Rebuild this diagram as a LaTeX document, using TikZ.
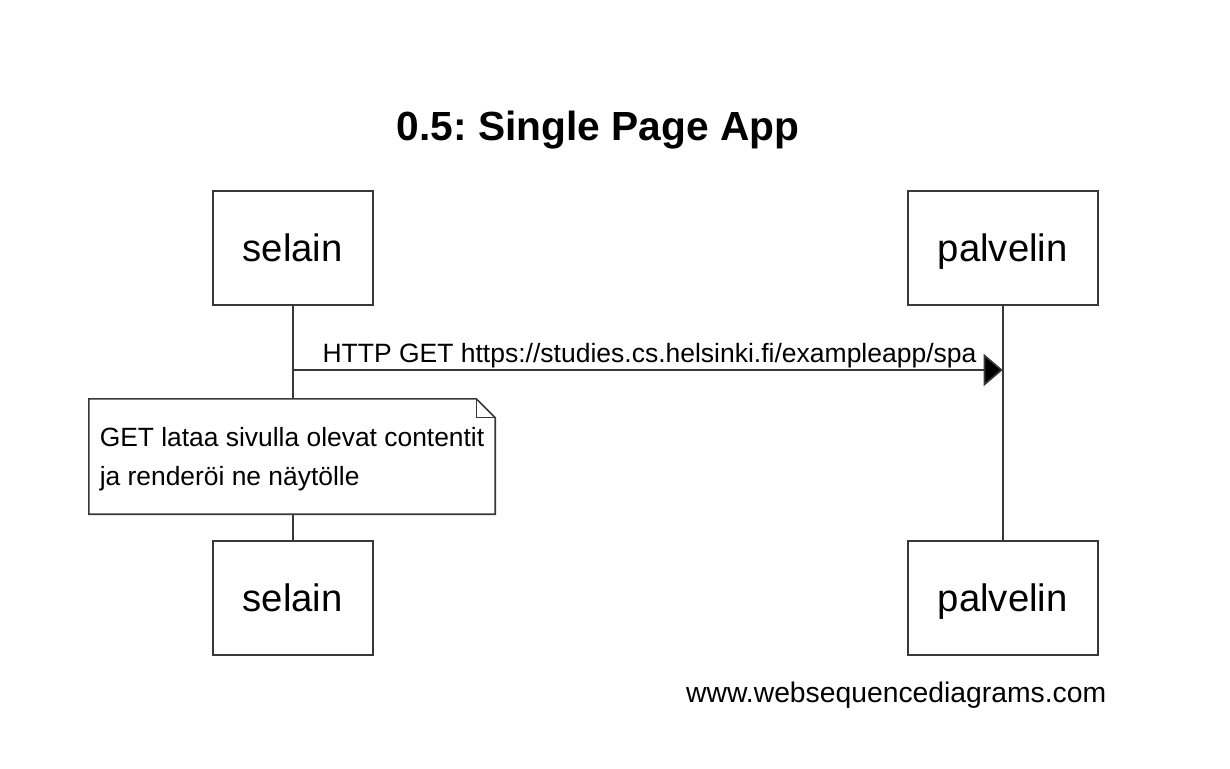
\documentclass[tikz,border=0pt]{standalone}
\usepackage{fontspec}
\setmainfont{Liberation Sans}
\usetikzlibrary{arrows.meta}
\definecolor{wsdline}{gray}{0.22}
\frenchspacing

\begin{document}
\begin{tikzpicture}[x=1pt, y=-1pt]
		% Node style
		\tikzset{actor style/.style={draw=wsdline,
								line width=1.6pt,
								inner sep=0pt,
								minimum height=114.3pt,
								text height=28pt,
								text depth=0pt,
								font=\fontsize{38.3}{46}\selectfont},
				note style/.style={inner sep=0pt,
								minimum width=406pt,
								minimum height=115pt,
								align=left,
								text depth=0pt,
								font=\fontsize{26.4}{39}\selectfont},
				message/.style={line width=1.6pt, draw=wsdline,
								-{Triangle[length=19pt, width=32pt, fill=black]}}}
		
		\useasboundingbox (0,0) rectangle (1230,768);
		
		% Draw nodes
		\node[anchor=base, inner sep=0pt, font=\bfseries\fontsize{40.7}{48}\selectfont] at (598, 140) (title) {0.5: Single Page App};
		
		\node[actor style, minimum width=160pt] at (292.7, 247.9)	(selainTop) {selain};
		\node[actor style, minimum width=190pt] at (1002.7, 247.9)	(palvelinTop) {palvelin};
		\node[actor style, minimum width=160pt] at (292.7, 597.9)	(selainBot) {selain};
		\node[actor style, minimum width=190pt] at (1002.7, 597.9)	(palvelinBot) {palvelin};
		
		\coordinate (getFrom) at (292.7, 370);
		\coordinate (getTo) at (1002.7, 370);
		
		\node[anchor=base west, inner sep=0pt, font=\fontsize{28.3}{34}\selectfont] at (686, 702) (footer) {www.websequencediagrams.com};
		
		% Draw connectors
		\draw[wsdline, line width=1.6pt] (selainTop) -- (selainBot);
		\draw[wsdline, line width=1.6pt] (palvelinTop) -- (palvelinBot);
		
		\draw[message] (getFrom) -- (getTo)
				node[pos=0, anchor=base west, inner sep=0pt, xshift=29pt, yshift=8pt,
					font=\fontsize{26.5}{32}\selectfont] (getLabel) {HTTP GET https://studies.cs.helsinki.fi/exampleapp/spa};
		
		% Draw note
		\node[note style, fill=white] at (292, 456.5) (note) {GET lataa sivulla olevat contentit\\ja renderöi ne näytölle};
		\draw[wsdline, line width=1.6pt, line join=miter]
			(note.north west) -- ([xshift=-19pt]note.north east) -- ([yshift=-19pt]note.north east)
			-- (note.south east) -- (note.south west) -- cycle;
		\draw[wsdline, line width=1.2pt]
			([xshift=-19pt]note.north east) -- ([xshift=-19pt, yshift=-19pt]note.north east) -- ([yshift=-19pt]note.north east);
		
	\end{tikzpicture}
\end{document}
